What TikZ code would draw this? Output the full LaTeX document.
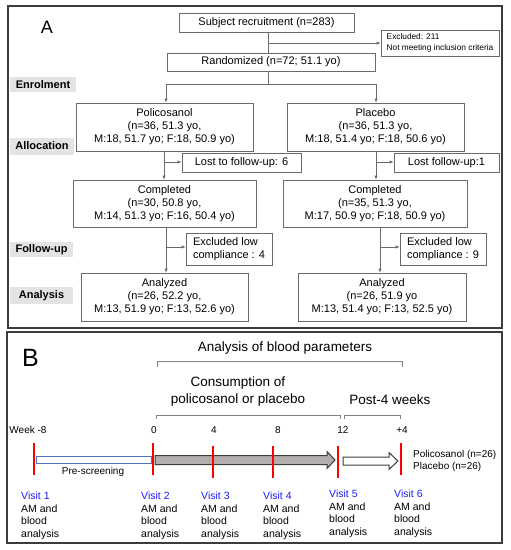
\documentclass[tikz,border=0pt]{standalone}
\usepackage{fontspec}
\setmainfont{Liberation Sans}
\usetikzlibrary{arrows.meta}
\definecolor{boxline}{HTML}{6A6A6A}
\definecolor{frameline}{HTML}{3C3C3C}
\definecolor{labelfill}{HTML}{E4E4E4}
\definecolor{vblue}{HTML}{1A1AFF}
\definecolor{mred}{HTML}{FF0000}
\definecolor{barfill}{HTML}{B3ADAD}
\definecolor{psblue}{HTML}{4F74B8}
\newcommand\myfs[2]{\fontsize{#1}{#2}\selectfont}
\begin{document}
\begin{tikzpicture}[x=1pt,y=-1pt,
  box/.style={draw=boxline, line width=0.7pt, fill=white, inner sep=0pt, align=center, font=\myfs{11}{13}},
  smallbox/.style={box, font=\myfs{8.3}{11}, align=left},
  lab/.style={fill=labelfill, inner sep=0pt, font=\bfseries\myfs{11}{13}},
  conn/.style={draw=boxline, line width=0.7pt},
  arr/.style={conn, -{Latex[length=4pt,width=3.5pt]}},
  frame/.style={draw=frameline, line width=1.3pt},
  brk/.style={draw=gray, line width=0.6pt},
  tick/.style={draw=mred, line width=2.2pt},
  wk/.style={font=\myfs{10}{12}, inner sep=0pt},
  big/.style={font=\myfs{13.5}{17}, inner sep=0pt, align=center},
  visit/.style={font=\myfs{10.5}{12.4}, inner sep=0pt, align=left, anchor=north west}]
\useasboundingbox (0,0) rectangle (511,550);
\draw[frame] (8,6) rectangle (502,328);
\draw[frame] (7,332) rectangle (502,543);

% ---------- Panel A ----------
\node[font=\myfs{18}{20}, inner sep=0pt] (labA) at (47,27) {A};

\node[box, minimum width=175pt, minimum height=19pt] (rec) at (266.5,22.5) {Subject recruitment (n=283)};
\node[smallbox, minimum width=118pt, minimum height=26pt] (excl) at (440,43) {Excluded: 211\\Not meeting inclusion criteria};
\node[box, minimum width=208pt, minimum height=18pt] (rand) at (271,62) {Randomized (n=72; 51.1 yo)};

\node[box, minimum width=177pt, minimum height=48pt] (poli) at (164.5,127) {Policosanol\\(n=36, 51.3 yo,\\M:18, 51.7 yo; F:18, 50.9 yo)};
\node[box, minimum width=177pt, minimum height=48pt] (plac) at (375.5,127) {Placebo\\(n=36, 51.3 yo,\\M:18, 51.4 yo; F:18, 50.6 yo)};

\node[box, minimum width=119pt, minimum height=19pt] (lost1) at (241.5,162.5) {Lost to follow-up: 6};
\node[box, minimum width=105pt, minimum height=19pt] (lost2) at (446.5,162.5) {Lost follow-up:1};

\node[box, minimum width=183pt, minimum height=47pt] (comp1) at (164.5,203.5) {Completed\\(n=30, 50.8 yo,\\M:14, 51.3 yo; F:16, 50.4 yo)};
\node[box, minimum width=184pt, minimum height=47pt] (comp2) at (375,203.5) {Completed\\(n=35, 51.3 yo,\\M:17, 50.9 yo; F:18, 50.9 yo)};

\node[box, align=left, minimum width=86pt, minimum height=32pt] (exl1) at (229,249) {Excluded low\\compliance : 4};
\node[box, align=left, minimum width=86pt, minimum height=32pt] (exl2) at (443,249) {Excluded low\\compliance : 9};

\node[box, minimum width=167pt, minimum height=48pt] (ana1) at (164.5,297) {Analyzed\\(n=26, 52.2 yo,\\M:13, 51.9 yo; F:13, 52.6 yo)};
\node[box, minimum width=168pt, minimum height=48pt] (ana2) at (382,297) {Analyzed\\(n=26, 51.9 yo\\M:13, 51.4 yo; F:13, 52.5 yo)};

\node[lab, minimum width=66pt, minimum height=15pt] (enr) at (43,84.5) {Enrolment};
\node[lab, minimum width=64pt, minimum height=17pt] (all) at (42,146) {Allocation};
\node[lab, minimum width=63pt, minimum height=15pt] (fol) at (41.5,249.5) {Follow-up};
\node[lab, minimum width=63pt, minimum height=17pt] (ana) at (41.5,295.5) {Analysis};

% connectors
\coordinate (t0) at (268,43);
\draw[conn] (rec.south -| t0) -- (rand.north -| t0);
\draw[arr] (t0) -- (excl.west |- t0);
\coordinate (s0) at (268,84);
\coordinate (sl) at (166,84);
\coordinate (sr) at (376,84);
\draw[conn] (rand.south -| s0) -- (s0);
\draw[conn] (sl) -- (sr);
\draw[arr] (sl) -- (poli.north -| sl);
\draw[arr] (sr) -- (plac.north -| sr);

\coordinate (p1) at (164,162);
\draw[arr] (poli.south -| p1) -- (comp1.north -| p1);
\draw[arr] (p1) -- (lost1.west |- p1);
\coordinate (p2) at (376,162);
\draw[arr] (plac.south -| p2) -- (comp2.north -| p2);
\draw[arr] (p2) -- (lost2.west |- p2);

\coordinate (c1) at (166,247);
\draw[arr] (comp1.south -| c1) -- (ana1.north -| c1);
\draw[arr] (c1) -- (exl1.west |- c1);
\coordinate (c2) at (380,247);
\draw[arr] (comp2.south -| c2) -- (ana2.north -| c2);
\draw[arr] (c2) -- (exl2.west |- c2);

% ---------- Panel B ----------
\node[font=\myfs{25}{27}, inner sep=0pt] (labB) at (30.5,358) {B};

\node[big] (abp) at (285,348) {Analysis of blood parameters};
\draw[brk] (157,367) -- (157,361) -- (402,361) -- (402,367);
\node[big] (cons) at (238,391.5) {Consumption of\\policosanol or placebo};
\node[big] (post) at (390,400) {Post-4 weeks};
\draw[brk] (156,419) -- (156,415) -- (340,415) -- (340,419);
\draw[brk] (344,419) -- (344,415) -- (400,415) -- (400,419);

\node[wk] (w8) at (28,430) {Week -8};
\node[wk] (w0) at (154,430) {0};
\node[wk] (w4) at (214,430) {4};
\node[wk] (w8b) at (278,430) {8};
\node[wk] (w12) at (343,430) {12};
\node[wk] (wp4) at (402,430) {+4};

\draw[draw=psblue, line width=0.8pt, fill=white] (36,456.5) rectangle (151,463);
\node[wk] (pre) at (93,472) {Pre-screening};

\draw[draw=frameline, line width=1pt, fill=barfill] (155,455.5) -- (327,455.5) -- (327,451.5) -- (335,460) -- (327,468.5) -- (327,464.5) -- (155,464.5) -- cycle;
\draw[draw=frameline, line width=1pt, fill=white] (343,457) -- (389,457) -- (389,452.5) -- (398,461) -- (389,469.5) -- (389,465) -- (343,465) -- cycle;

\draw[tick] (34,443) -- (34,475);
\draw[tick] (153,443) -- (153,475);
\draw[tick] (213,446) -- (213,478);
\draw[tick] (273,446) -- (273,478);
\draw[tick] (338,446) -- (338,478);
\draw[tick] (401,443) -- (401,475);

\node[wk, align=left, anchor=west] (grp) at (413,461) {Policosanol (n=26)\\Placebo (n=26)};

\node[visit] (v1) at (21,492) {\textcolor{vblue}{Visit 1}\\AM and\\blood\\analysis};
\node[visit] (v2) at (141,492) {\textcolor{vblue}{Visit 2}\\AM and\\blood\\analysis};
\node[visit] (v3) at (201,492) {\textcolor{vblue}{Visit 3}\\AM and\\blood\\analysis};
\node[visit] (v4) at (263,492) {\textcolor{vblue}{Visit 4}\\AM and\\blood\\analysis};
\node[visit] (v5) at (329,490) {\textcolor{vblue}{Visit 5}\\AM and\\blood\\analysis};
\node[visit] (v6) at (394,490) {\textcolor{vblue}{Visit 6}\\AM and\\blood\\analysis};
\end{tikzpicture}
\end{document}
